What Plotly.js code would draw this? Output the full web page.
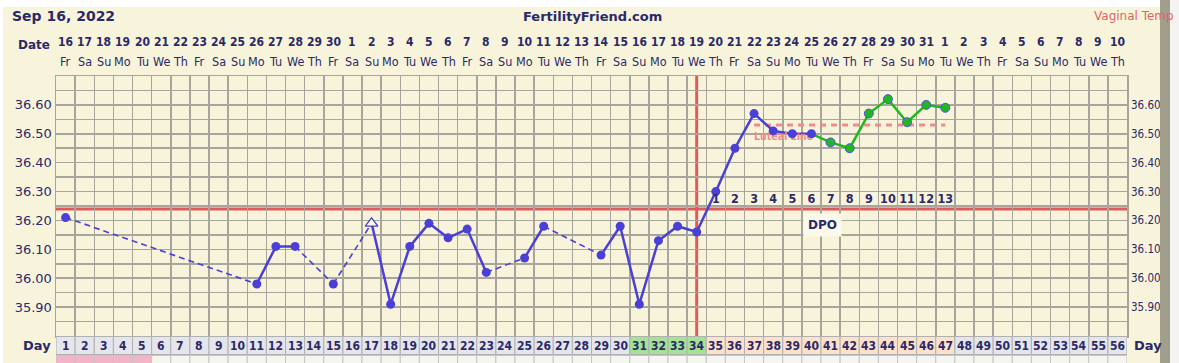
<!DOCTYPE html>
<html><head><meta charset="utf-8">
<script src="https://cdn.plot.ly/plotly-3.0.1.min.js"></script>
<style>html,body{margin:0;padding:0;background:#fff}#chart{width:1179px;height:363px}</style>
</head><body><div id="chart"></div>
<script>
// ---------- data ----------
const cycleDays = [1,2,3,4,5,6,7,8,9,10,11,12,13,14,15,16,17,18,19,20,21,22,23,24,25,26,27,28,29,30,31,32,33,34,35,36,37,38,39,40,41,42,43,44,45,46,47,48,49,50,51,52,53,54,55,56];
const dateNums = ['16','17','18','19','20','21','22','23','24','25','26','27','28','29','30','1','2','3','4','5','6','7','8','9','10','11','12','13','14','15','16','17','18','19','20','21','22','23','24','25','26','27','28','29','30','31','1','2','3','4','5','6','7','8','9','10'];
const weekDays = ['Fr','Sa','Su','Mo','Tu','We','Th','Fr','Sa','Su','Mo','Tu','We','Th','Fr','Sa','Su','Mo','Tu','We','Th','Fr','Sa','Su','Mo','Tu','We','Th','Fr','Sa','Su','Mo','Tu','We','Th','Fr','Sa','Su','Mo','Tu','We','Th','Fr','Sa','Su','Mo','Tu','We','Th','Fr','Sa','Su','Mo','Tu','We','Th'];
// temperature per cycle day (null = not recorded)
const temps = [36.21,null,null,null,null,null,null,null,null,null,35.98,36.11,36.11,null,35.98,null,36.19,35.91,36.11,36.19,36.14,36.17,36.02,null,36.07,36.18,null,null,36.08,36.18,35.91,36.13,36.18,36.16,36.30,36.45,36.57,36.51,36.50,36.50,36.47,36.45,36.57,36.62,36.54,36.60,36.59];
const openDays = [17];
const greenFromDay = 40;
const dpoDays = [35,36,37,38,39,40,41,42,43,44,45,46,47];
const dpoLabels = ['1','2','3','4','5','6','7','8','9','10','11','12','13'];
const coverline = 36.24;
const ovulationDay = 34;
const lutealLevel = 36.53;
const lutealFrom = 37, lutealTo = 47;
const dayPhase = ['p','p','p','p','p','p','p','p','p','p','p','p','p','p','p','p','p','p','p','p','p','p','p','p','p','p','p','p','p','p','f','f','f','f','l','l','l','l','l','l','l','l','l','l','l','l','l','p','p','p','p','p','p','p','p','p'];
const flowDays = [1,2,3,4,5];
const tempTickVals = [35.80,35.85,35.90,35.95,36.00,36.05,36.10,36.15,36.20,36.25,36.30,36.35,36.40,36.45,36.50,36.55,36.60,36.65,36.70];
const tempTickText = ['','','35.90','','36.00','','36.10','','36.20','','36.30','','36.40','','36.50','','36.60','',''];
const chartDate = 'Sep 16, 2022';
const siteName = 'FertilityFriend.com';
const tempType = 'Vaginal Temp';

// ---------- styles ----------
const NAVY = '#2b2967', BLUE = '#4a3fd6', GREEN = '#1fb81f', RED = '#e05a5c', PINK = '#f28a8a';
const CREAM = '#f8f4dc', GRID = '#a8a69c';
const COND = '"DejaVu Sans Condensed","DejaVu Sans",sans-serif';
const SANS = '"DejaVu Sans",Verdana,sans-serif';
const W = 1179, H = 363, L = 56, R = 1127, T = 76, B = 336;
const px = v => (v - L) / (R - L);
const py = v => (B - v) / (B - T);

// ---------- traces ----------
const blueX = [], blueY = [];
for (let i = 0; i < temps.length; i++) if (cycleDays[i] <= greenFromDay) { blueX.push(cycleDays[i]); blueY.push(temps[i]); }
const dashX = [], dashY = [];
let prev = -1;
for (let i = 0; i < temps.length; i++) {
  if (temps[i] === null) continue;
  if (prev >= 0 && i - prev > 1) { dashX.push(cycleDays[prev], cycleDays[i], null); dashY.push(temps[prev], temps[i], null); }
  prev = i;
}
const dotX = [], dotY = [], openX = [], openY = [], gX = [], gY = [], gmX = [], gmY = [];
for (let i = 0; i < temps.length; i++) {
  if (temps[i] === null) continue;
  const d = cycleDays[i];
  if (d >= greenFromDay) { gX.push(d); gY.push(temps[i]); if (d > greenFromDay) { gmX.push(d); gmY.push(temps[i]); } }
  if (d <= greenFromDay) {
    if (openDays.includes(d)) { openX.push(d); openY.push(temps[i]); } else { dotX.push(d); dotY.push(temps[i]); }
  }
}
const traces = [
  {x:dashX, y:dashY, mode:'lines', line:{color:BLUE, width:1.6, dash:'6px,4px'}, hoverinfo:'skip', showlegend:false},
  {x:blueX, y:blueY, mode:'lines', connectgaps:false, line:{color:BLUE, width:2.5}, hoverinfo:'skip', showlegend:false},
  {x:gX, y:gY, mode:'lines', line:{color:GREEN, width:2.5}, hoverinfo:'skip', showlegend:false},
  {x:[lutealFrom], y:[lutealLevel - 0.041], mode:'text', text:['Luteal Line'], textposition:'middle right',
   textfont:{family:COND, size:10.5, color:PINK, weight:'bold'}, hoverinfo:'skip', showlegend:false},
  {x:dotX, y:dotY, mode:'markers', marker:{color:BLUE, size:9}, hoverinfo:'skip', showlegend:false},
  {x:gmX, y:gmY, mode:'markers', marker:{color:GREEN, size:9, line:{color:'#5a4fe0', width:1}}, hoverinfo:'skip', showlegend:false},
  {x:openX, y:openY, mode:'markers', marker:{symbol:'triangle-up', color:'#fbfaf0', size:11, line:{color:BLUE, width:1.3}}, hoverinfo:'skip', showlegend:false},
  {x:dpoDays, y:dpoDays.map(() => 36.272), mode:'text', text:dpoLabels, textposition:'middle center',
   textfont:{family:COND, size:12.5, color:NAVY, weight:'bold'}, hoverinfo:'skip', showlegend:false},
  {x:[1], y:[36.0], yaxis:'y2', mode:'markers', marker:{opacity:0}, hoverinfo:'skip', showlegend:false}
];

// ---------- shapes ----------
const shapes = [
  {type:'rect', xref:'paper', yref:'paper', x0:px(3), x1:px(1160), y0:py(H+2), y1:py(7), fillcolor:CREAM, line:{width:0}, layer:'below'},
  {type:'line', xref:'paper', yref:'y', x0:0, x1:1, y0:coverline, y1:coverline, line:{color:RED, width:3}, layer:'between'},
  {type:'line', xref:'x', yref:'paper', x0:ovulationDay, x1:ovulationDay, y0:0, y1:1, line:{color:RED, width:3}, layer:'between'},
  {type:'line', xref:'x', yref:'y', x0:lutealFrom, x1:lutealTo, y0:lutealLevel, y1:lutealLevel, line:{color:PINK, width:3, dash:'6px,5px'}, layer:'between'}
];
const phaseFill = {p:'#e5e5ec', f:'#a4e294', l:'#fde1cb'};
cycleDays.forEach((d, i) => {
  shapes.push({type:'rect', xref:'x', yref:'paper', x0:d-0.5, x1:d+0.5, y0:py(354.5), y1:py(336.5),
    fillcolor:phaseFill[dayPhase[i]], line:{color:'#b0b0b0', width:1}});
  shapes.push({type:'rect', xref:'x', yref:'paper', x0:d-0.5, x1:d+0.5, y0:py(366), y1:py(355.5),
    fillcolor:flowDays.includes(d) ? '#f2b5c7' : '#f6f6f1', line:{color:'#c4c4c4', width:1}});
});
shapes.push({type:'rect', xref:'paper', yref:'paper', x0:px(1160), x1:px(1170), y0:py(H+2), y1:py(-2), fillcolor:'#a29e8c', line:{width:0}});
shapes.push({type:'rect', xref:'paper', yref:'paper', x0:px(1170), x1:px(W+2), y0:py(H+2), y1:py(-2), fillcolor:'#f4f3ef', line:{width:0}});

// ---------- annotations ----------
const ann = [
  {text:chartDate, x:px(10), y:py(16), xanchor:'left', font:{family:SANS, size:14, color:NAVY, weight:'bold'}},
  {text:siteName, x:px(592), y:py(17), xanchor:'center', font:{family:SANS, size:13, color:NAVY, weight:'bold'}},
  {text:tempType, x:px(1092), y:py(16), xanchor:'left', font:{family:SANS, size:12, color:'#e06666'}},
  {text:'Date', x:px(52), y:py(45), xanchor:'right', font:{family:SANS, size:12, color:NAVY, weight:'bold'}},
  {text:'Day', x:px(53), y:py(345.5), xanchor:'right', font:{family:SANS, size:13, color:NAVY, weight:'bold'}},
  {text:'Day', x:px(1132), y:py(345.5), xanchor:'left', font:{family:SANS, size:13, color:NAVY, weight:'bold'}},
  {text:'DPO', xref:'x', yref:'y', x:40.6, y:36.184, xanchor:'center', bgcolor:'#fbf9ea', borderpad:4,
   font:{family:SANS, size:12, color:NAVY, weight:'bold'}}
].map(a => Object.assign({xref:'paper', yref:'paper', showarrow:false, yanchor:'middle'}, a));
cycleDays.forEach((d, i) => {
  ann.push({xref:'x', yref:'paper', x:d, y:py(42), text:dateNums[i], showarrow:false, yanchor:'middle',
    font:{family:COND, size:12, color:NAVY, weight:'bold'}});
  ann.push({xref:'x', yref:'paper', x:d, y:py(61), text:weekDays[i], showarrow:false, yanchor:'middle',
    font:{family:COND, size:12.5, color:NAVY}});
  ann.push({xref:'x', yref:'paper', x:d, y:py(345.5), text:String(d), showarrow:false, yanchor:'middle',
    font:{family:COND, size:12, color:NAVY, weight:'bold'}});
});

const yax = {range:[35.80, 36.70], tickvals:tempTickVals, ticktext:tempTickText, showgrid:true, gridcolor:GRID, gridwidth:1.5,
  zeroline:false, ticks:'', fixedrange:true, tickfont:{family:SANS, size:13, color:NAVY}};
const layout = {
  width:W, height:H, margin:{l:L, r:W-R, t:T, b:H-B}, paper_bgcolor:'#ffffff', plot_bgcolor:CREAM,
  showlegend:false, hovermode:false,
  xaxis:{range:[0.5, 56.5], tick0:0.5, dtick:1, showgrid:true, gridcolor:GRID, gridwidth:1.5, showticklabels:false,
    ticks:'', zeroline:false, showline:true, linecolor:GRID, linewidth:1.5, mirror:true, fixedrange:true},
  yaxis:Object.assign({}, yax, {showline:true, linecolor:GRID, linewidth:1.5, mirror:true}),
  yaxis2:Object.assign({}, yax, {overlaying:'y', side:'right', showgrid:false, ticklabelstandoff:3,
    tickfont:{family:COND, size:11.5, color:NAVY}}),
  shapes:shapes, annotations:ann
};
Plotly.newPlot('chart', traces, layout, {staticPlot:true, displayModeBar:false});
</script></body></html>
